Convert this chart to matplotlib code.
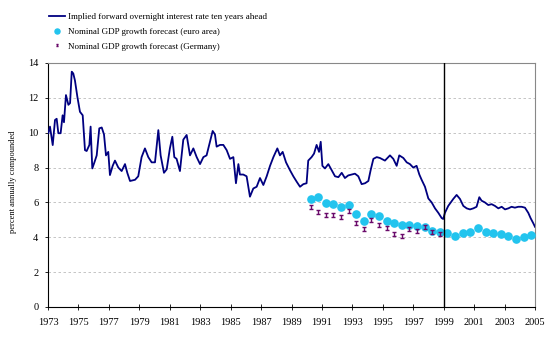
import matplotlib
matplotlib.use("Agg")
import matplotlib.pyplot as plt
from matplotlib.path import Path

# ---- data ----
rate_dates = [
    1973.02, 1973.13, 1973.31, 1973.46, 1973.57, 1973.68, 1973.83, 1973.96, 1974.05, 1974.18,
    1974.34, 1974.45, 1974.56, 1974.66, 1974.77, 1974.93, 1975.10, 1975.28, 1975.43, 1975.54,
    1975.72, 1975.80, 1975.91, 1976.05, 1976.20, 1976.37, 1976.53, 1976.68, 1976.81, 1976.96,
    1977.07, 1977.25, 1977.40, 1977.62, 1977.84, 1978.06, 1978.21, 1978.39, 1978.72, 1978.93,
    1979.15, 1979.37, 1979.59, 1979.81, 1980.03, 1980.25, 1980.40, 1980.62, 1980.80, 1981.01,
    1981.17, 1981.30, 1981.45, 1981.67, 1981.89, 1982.11, 1982.33, 1982.55, 1982.77, 1982.99,
    1983.21, 1983.42, 1983.64, 1983.82, 1983.97, 1984.08, 1984.30, 1984.52, 1984.74, 1984.96,
    1985.18, 1985.35, 1985.51, 1985.61, 1985.83, 1986.05, 1986.27, 1986.49, 1986.71, 1986.93,
    1987.15, 1987.37, 1987.59, 1987.81, 1988.07, 1988.24, 1988.42, 1988.64, 1988.90, 1989.12,
    1989.34, 1989.56, 1989.78, 1989.99, 1990.10, 1990.32, 1990.48, 1990.65, 1990.81, 1990.92,
    1991.03, 1991.20, 1991.42, 1991.64, 1991.86, 1992.08, 1992.30, 1992.51, 1992.73, 1992.95,
    1993.17, 1993.39, 1993.61, 1993.83, 1994.05, 1994.20, 1994.38, 1994.60, 1994.81, 1995.14,
    1995.47, 1995.69, 1995.91, 1996.08, 1996.35, 1996.57, 1996.78, 1997.00, 1997.22, 1997.40,
    1997.55, 1997.77, 1997.99, 1998.21, 1998.43, 1998.65, 1998.87, 1998.97, 1999.08, 1999.30,
    1999.63, 1999.85, 2000.07, 2000.29, 2000.51, 2000.73, 2000.95, 2001.16, 2001.34, 2001.49,
    2001.71, 2001.93, 2002.15, 2002.37, 2002.59, 2002.81, 2003.03, 2003.25, 2003.46, 2003.68,
    2003.90, 2004.12, 2004.34, 2004.56, 2004.71, 2004.89, 2005.00,
]
rate_values = [
    9.97, 10.35, 9.29, 10.73, 10.8, 9.97, 9.97, 11.0, 10.6, 12.16,
    11.6, 11.7, 13.5, 13.4, 13.0, 12.06, 11.2, 11.0, 9.0, 8.95,
    9.3, 10.35, 7.95, 8.3, 8.7, 10.25, 10.3, 9.9, 8.7, 8.9,
    7.57, 8.1, 8.4, 8.0, 7.8, 8.2, 7.7, 7.23, 7.3, 7.5,
    8.6, 9.1, 8.6, 8.3, 8.3, 10.15, 8.7, 7.7, 7.9, 9.1,
    9.77, 8.6, 8.5, 7.8, 9.6, 9.87, 8.7, 9.1, 8.6, 8.2,
    8.6, 8.7, 9.48, 10.1, 9.9, 9.2, 9.3, 9.3, 9.0, 8.5,
    8.6, 7.1, 8.2, 7.6, 7.6, 7.5, 6.33, 6.8, 6.9, 7.4,
    7.0, 7.5, 8.1, 8.6, 9.1, 8.7, 8.9, 8.3, 7.85, 7.5,
    7.19, 6.9, 7.05, 7.1, 8.4, 8.6, 8.8, 9.3, 8.9, 9.48,
    8.1, 7.95, 8.2, 7.85, 7.5, 7.45, 7.7, 7.4, 7.55, 7.6,
    7.65, 7.5, 7.05, 7.1, 7.23, 7.85, 8.5, 8.6, 8.55, 8.4,
    8.7, 8.5, 8.1, 8.7, 8.55, 8.3, 8.2, 8.0, 8.1, 7.6,
    7.3, 6.9, 6.23, 6.0, 5.66, 5.4, 5.1, 5.05, 5.4, 5.8,
    6.2, 6.43, 6.2, 5.8, 5.66, 5.6, 5.66, 5.75, 6.3, 6.1,
    6.0, 5.85, 5.9, 5.8, 5.66, 5.75, 5.6, 5.66, 5.75, 5.7,
    5.75, 5.75, 5.7, 5.4, 5.1, 4.8, 4.6,
]

euro_dates = [
    1990.25, 1990.75, 1991.25, 1991.75, 1992.25, 1992.75, 1993.25, 1993.75, 1994.25, 1994.75,
    1995.25, 1995.75, 1996.25, 1996.75, 1997.25, 1997.75, 1998.25, 1998.75, 1999.25, 1999.75,
    2000.25, 2000.75, 2001.25, 2001.75, 2002.25, 2002.75, 2003.25, 2003.75, 2004.25, 2004.75,
]
euro_values = [
    6.20, 6.33, 5.97, 5.93, 5.75, 5.83, 5.34, 4.93, 5.34, 5.22,
    4.95, 4.84, 4.72, 4.70, 4.66, 4.59, 4.36, 4.30, 4.23, 4.09,
    4.26, 4.32, 4.51, 4.30, 4.26, 4.17, 4.09, 3.90, 4.03, 4.11,
]

germany_dates = [
    1990.25, 1990.75, 1991.25, 1991.75, 1992.25, 1992.75, 1993.25, 1993.75, 1994.25, 1994.75,
    1995.25, 1995.75, 1996.25, 1996.75, 1997.25, 1997.75, 1998.25, 1998.75,
]
germany_values = [
    5.75, 5.47, 5.28, 5.28, 5.16, 5.49, 4.80, 4.49, 4.99, 4.69,
    4.55, 4.17, 4.07, 4.49, 4.38, 4.61, 4.29, 4.19,
]

x_ticks = list(range(1973, 2006, 2))
y_ticks = [0, 2, 4, 6, 8, 10, 12, 14]
divider_year = 1999

labels = [
    "Implied forward overnight interest rate ten years ahead",
    "Nominal GDP growth forecast (euro area)",
    "Nominal GDP growth forecast (Germany)",
]

# ---- plotting ----
plt.rcParams['font.family'] = ['Liberation Serif', 'DejaVu Serif']

fig = plt.figure(figsize=(5.54, 3.39), dpi=100)
ax = fig.add_axes([48 / 554, 1 - 307 / 339, (535 - 48) / 554, (307 - 63) / 339])

ibeam = Path([(-1, 1), (1, 1), (0, 1), (0, -1), (-1, -1), (1, -1)],
             [Path.MOVETO, Path.LINETO, Path.MOVETO, Path.LINETO, Path.MOVETO, Path.LINETO])

l1, = ax.plot(rate_dates, rate_values, color='#000080', lw=1.3, zorder=3)
l2, = ax.plot(euro_dates, euro_values, ls='none', marker='o', ms=5.2,
              mfc='#22C4EE', mec='#22C4EE', zorder=4)
l3, = ax.plot(germany_dates, germany_values, ls='none', marker=ibeam, ms=3.0,
              mfc='none', mec='#6A0A6A', mew=1.0, zorder=5)
ax.axvline(divider_year, color='black', lw=1.0, zorder=6)

ax.set_xlim(1973, 2005)
ax.set_ylim(0, 14)
ax.set_xticks(x_ticks)
ax.set_xticklabels([str(t) for t in x_ticks], fontsize=7.5)
ax.set_yticks(y_ticks)
ax.set_yticklabels([str(t) for t in y_ticks], fontsize=7.5)
ax.tick_params(axis='x', direction='inout', length=4, width=0.6, pad=6)
ax.tick_params(axis='y', direction='out', length=2, width=0.6, pad=5)

for y in y_ticks[1:-1]:
    ax.axhline(y, color='#BBBBBB', lw=0.6, ls=(0, (3, 3)), zorder=1)

ax.spines['left'].set_color('black')
ax.spines['bottom'].set_color('black')
ax.spines['top'].set_color('#888888')
ax.spines['right'].set_color('#888888')
for s in ax.spines.values():
    s.set_linewidth(0.8)

fig.text(13 / 554, 1 - 182 / 339, "percent annually compounded", rotation=90,
         fontsize=6, ha='center', va='center')

leg = fig.legend([l1, l2, l3], labels, loc='upper left',
                 bbox_to_anchor=(49 / 554, 1 - 13 / 339), frameon=False,
                 fontsize=6.5, handlelength=1.8, handletextpad=0.3,
                 labelspacing=0.7, borderaxespad=0, borderpad=0,
                 markerscale=0.7)

fig.savefig("out.png", dpi=100)
